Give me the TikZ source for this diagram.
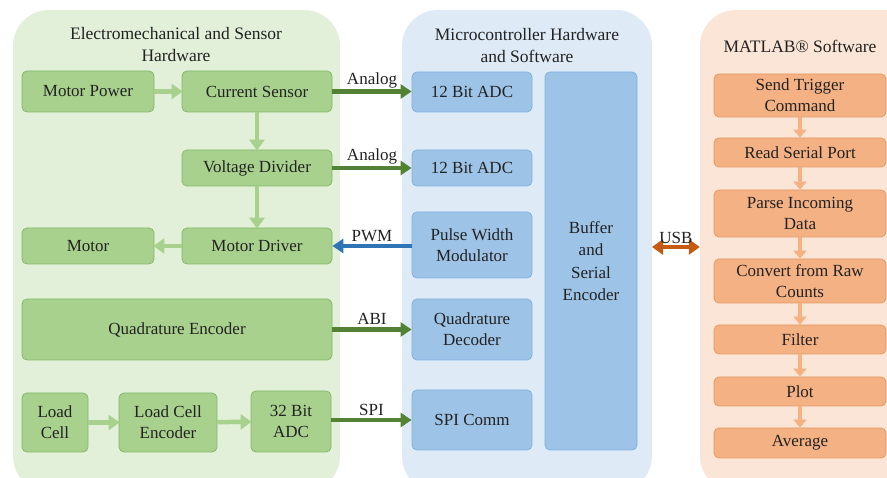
\documentclass[tikz,border=0pt]{standalone}
\usepackage{fontspec}
\setmainfont{Liberation Serif}
\newfontfamily\myserif{Liberation Serif}
\usetikzlibrary{arrows.meta}
\definecolor{gbg}{HTML}{E2F0D9}
\definecolor{gbox}{HTML}{A9D18E}
\definecolor{gbord}{HTML}{84B968}
\definecolor{gdark}{HTML}{548235}
\definecolor{bbg}{HTML}{DEEBF7}
\definecolor{bbox}{HTML}{9DC3E6}
\definecolor{bbord}{HTML}{7FB0DF}
\definecolor{bdark}{HTML}{2E75B6}
\definecolor{obg}{HTML}{FBE5D6}
\definecolor{obox}{HTML}{F4B183}
\definecolor{obord}{HTML}{E39A65}
\definecolor{odark}{HTML}{C55A11}
\definecolor{txt}{HTML}{222222}
\tikzset{
  bg/.style={fill=#1, draw=none, rounded corners=36pt, inner sep=0pt},
  box/.style={rounded corners=5pt, line width=0.8pt, align=center, inner sep=0pt,
     text=txt, font=\myserif\fontsize{17}{21}\selectfont},
  gbx/.style={box, fill=gbox, draw=gbord},
  bbx/.style={box, fill=bbox, draw=bbord},
  obx/.style={box, fill=obox, draw=obord},
  ttl/.style={align=center, text=txt, font=\myserif\fontsize{17.5}{22}\selectfont, inner sep=0pt},
  lbl/.style={text=txt, font=\myserif\fontsize{17}{20}\selectfont, inner sep=1.5pt},
  larrow/.style={draw=gbox, line width=4.5pt, -{Triangle[length=11pt,width=15pt]}, shorten >=-1pt},
  darrow/.style={draw=gdark, line width=4.5pt, -{Triangle[length=11pt,width=14pt]}},
  parrow/.style={draw=bdark, line width=4.5pt, -{Triangle[length=11pt,width=14pt]}},
  uarrow/.style={draw=odark, line width=4.5pt, {Triangle[length=11pt,width=15pt]}-{Triangle[length=11pt,width=15pt]}},
  oarrow/.style={draw=obox, line width=4.5pt, -{Triangle[length=8pt,width=13pt]}},
}
\begin{document}
\begin{tikzpicture}[x=1pt,y=-1pt]
\useasboundingbox (0,0) rectangle (887,478);
\fill[white] (0,0) rectangle (887,478);
% containers
\node[bg=gbg, minimum width=327pt, minimum height=482pt] (gbgn) at (176.5,251) {};
\node[bg=bbg, minimum width=250pt, minimum height=482pt] (bbgn) at (527,251) {};
\node[bg=obg, minimum width=220pt, minimum height=482pt] (obgn) at (810,251) {};
% titles
\node[ttl] (t1) at (176,45) {Electromechanical and Sensor\\Hardware};
\node[ttl] (t2) at (527,46) {Microcontroller Hardware\\and Software};
\node[ttl] (t3) at (800,46) {MATLAB® Software};
% green boxes
\node[gbx, minimum width=132pt, minimum height=41pt] (mp) at (88,91.5) {Motor Power};
\node[gbx, minimum width=150pt, minimum height=41pt] (cs) at (257,91.5) {Current Sensor};
\node[gbx, minimum width=150pt, minimum height=36pt] (vd) at (257,168) {Voltage Divider};
\node[gbx, minimum width=150pt, minimum height=36pt] (md) at (257,246) {Motor Driver};
\node[gbx, minimum width=132pt, minimum height=36pt] (mo) at (88,246) {Motor};
\node[gbx, minimum width=310pt, minimum height=61pt] (qe) at (177,329.5) {Quadrature Encoder};
\node[gbx, minimum width=66pt, minimum height=59pt] (lc) at (55,422.5) {Load\\Cell};
\node[gbx, minimum width=98pt, minimum height=59pt] (lce) at (168,422.5) {Load Cell\\Encoder};
\node[gbx, minimum width=80pt, minimum height=61pt] (adc3) at (291,421.5) {32 Bit\\ADC};
% blue boxes
\node[bbx, minimum width=120pt, minimum height=40pt] (adc1) at (472,92) {12 Bit ADC};
\node[bbx, minimum width=120pt, minimum height=36pt] (adc2) at (472,168) {12 Bit ADC};
\node[bbx, minimum width=120pt, minimum height=66pt] (pwm) at (472,245) {Pulse Width\\Modulator};
\node[bbx, minimum width=120pt, minimum height=61pt] (qd) at (472,329.5) {Quadrature\\Decoder};
\node[bbx, minimum width=120pt, minimum height=60pt] (spi) at (472,420) {SPI Comm};
\node[bbx, minimum width=92pt, minimum height=378pt, font=\myserif\fontsize{17}{22.5}\selectfont] (buf) at (591,261) {Buffer\\and\\Serial\\Encoder};
% orange boxes
\node[obx, minimum width=172pt, minimum height=43pt] (st) at (800,95.5) {Send Trigger\\Command};
\node[obx, minimum width=172pt, minimum height=29pt] (rs) at (800,152.5) {Read Serial Port};
\node[obx, minimum width=172pt, minimum height=47pt] (pi) at (800,213.5) {Parse Incoming\\Data};
\node[obx, minimum width=172pt, minimum height=44pt] (cr) at (800,281) {Convert from Raw\\Counts};
\node[obx, minimum width=172pt, minimum height=29pt] (fi) at (800,339.5) {Filter};
\node[obx, minimum width=172pt, minimum height=29pt] (pl) at (800,391.5) {Plot};
\node[obx, minimum width=172pt, minimum height=30pt] (av) at (800,443) {Average};
% light green arrows
\draw[larrow] (mp) -- (cs);
\draw[larrow] (cs) -- (vd);
\draw[larrow] (vd) -- (md);
\draw[larrow] (md) -- (mo);
\draw[larrow] (lc) -- (lce);
\draw[larrow] (lce) -- (adc3);
% signal arrows
\draw[darrow] (cs.east) -- (cs.east -| adc1.west) node[lbl, midway, above] {Analog};
\draw[darrow] (vd.east) -- (vd.east -| adc2.west) node[lbl, midway, above] {Analog};
\draw[parrow] (pwm.west |- md.east) -- (md.east) node[lbl, midway, above] {PWM};
\draw[darrow] (qe.east) -- (qe.east -| qd.west) node[lbl, midway, above, yshift=1pt] {ABI};
\draw[darrow] (adc3.east |- spi.west) -- (spi.west) node[lbl, midway, above, yshift=1pt] {SPI};
% USB
\coordinate (usbl) at (652,247);
\draw[uarrow] (usbl) -- (usbl -| obgn.west) node[lbl, midway, above] {USB};
% orange arrows
\draw[oarrow] (st) -- (rs);
\draw[oarrow] (rs) -- (pi);
\draw[oarrow] (pi) -- (cr);
\draw[oarrow] (cr) -- (fi);
\draw[oarrow] (fi) -- (pl);
\draw[oarrow] (pl) -- (av);
\end{tikzpicture}
\end{document}
